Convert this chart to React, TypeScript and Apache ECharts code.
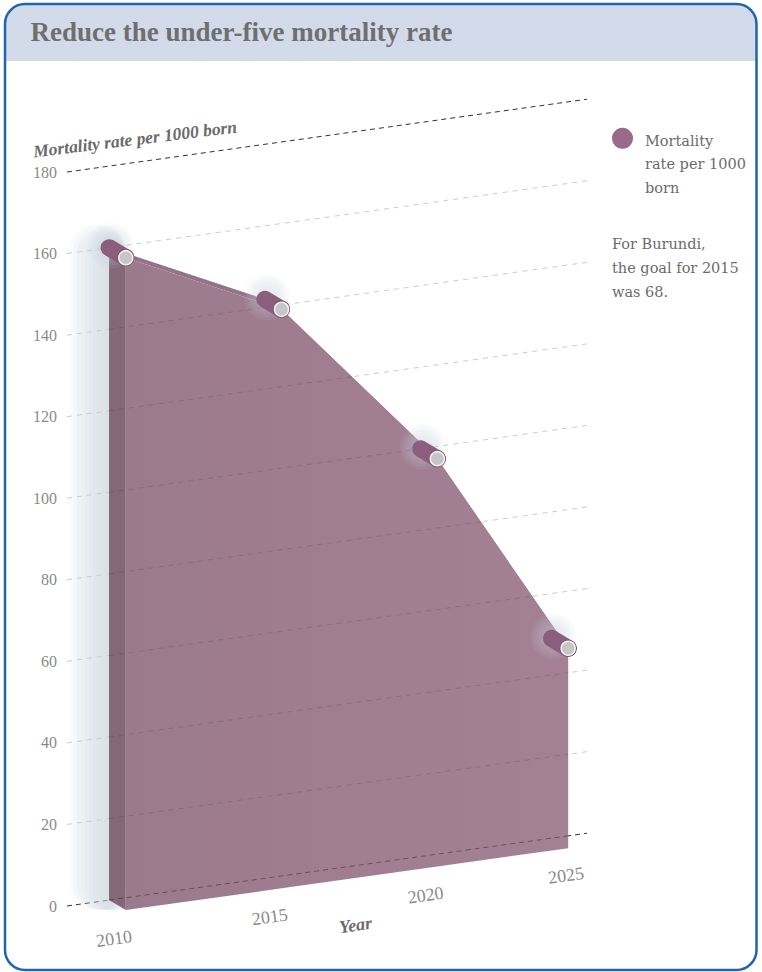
import React, { useEffect, useRef } from "react";
import * as echarts from "echarts";

// ---- data ----
const years = [2010, 2015, 2020, 2024.2];
const mortality = [160, 142, 100, 49];
const yTicks = [0, 20, 40, 60, 80, 100, 120, 140, 160, 180];
const xTicks = [2010, 2015, 2020, 2025];

const titleText = "Reduce the under-five mortality rate";
const yTitleText = "Mortality rate per 1000 born";
const xTitleText = "Year";
const seriesName = "Mortality rate per 1000 born";
const legendLines = ["Mortality", "rate per 1000", "born"];
const noteLines = ["For Burundi,", "the goal for 2015", "was 68."];

// ---- layout / style ----
const X_MIN = 2008.65;
const X_MAX = 2025.34;
const SLOPE = 0.14;
const DX = 16.7;
const DY = 10;
const SERIF = "'Liberation Serif', serif";
const BODY = "'DejaVu Serif', serif";
const FRONT_A = "#9c7a8e";
const FRONT_B = "#a48094";
const SIDE = "#85677a";
const TOP = "#93728a";
const PIPE = "#8b5e7d";

export default function App() {
  const ref = useRef<HTMLDivElement>(null);

  useEffect(() => {
    const chart = echarts.init(ref.current as HTMLDivElement, null, { renderer: "svg" });

    const skewer = (api: any) => {
      const left = api.coord([X_MIN, 0])[0];
      return (p: number[]) => [p[0], p[1] - (p[0] - left) * SLOPE];
    };
    const geometry = (api: any) => {
      const sk = skewer(api);
      const back = years.map((t, i) => sk(api.coord([t, mortality[i]])));
      const backBase = years.map((t) => sk(api.coord([t, 0])));
      const fr = (p: number[]) => [p[0] + DX, p[1] + DY];
      return { back, backBase, front: back.map(fr), frontBase: backBase.map(fr), sk };
    };
    const interp = (pts: number[][], x: number) => {
      for (let i = 0; i < pts.length - 1; i++) {
        const a = pts[i], b = pts[i + 1];
        if (x >= a[0] && x <= b[0]) {
          return a[1] + ((x - a[0]) * (b[1] - a[1])) / (b[0] - a[0] || 1);
        }
      }
      return Infinity;
    };
    const isEdge = (v: number) => v === yTicks[0] || v === yTicks[yTicks.length - 1];

    const gridBase = (params: any, api: any) => {
      const v = yTicks[params.dataIndex];
      const sk = skewer(api);
      const a = sk(api.coord([X_MIN, v]));
      const b = sk(api.coord([X_MAX, v]));
      const edge = isEdge(v);
      return {
        type: "line",
        shape: { x1: a[0], y1: a[1], x2: b[0], y2: b[1] },
        style: { stroke: edge ? "#333333" : "#cccccc", lineWidth: 1, lineDash: edge ? [5, 4] : [5, 5] },
        silent: true,
      };
    };

    const gridOverlay = (params: any, api: any) => {
      const v = yTicks[params.dataIndex];
      const g = geometry(api);
      const a = g.sk(api.coord([X_MIN, v]));
      const b = g.sk(api.coord([X_MAX, v]));
      const gy = (x: number) => a[1] + ((x - a[0]) * (b[1] - a[1])) / (b[0] - a[0]);
      const n = years.length;
      const x0 = g.back[0][0];
      const x1 = g.front[n - 1][0];
      const runs: number[][] = [];
      let start: number | null = null;
      let last = x0;
      for (let x = x0; x <= x1; x += 0.5) {
        const top = Math.min(interp(g.back, x), interp(g.front, x), interp([g.back[0], g.front[0]], x));
        const inside = gy(x) >= top - 0.5;
        if (inside && start === null) start = x;
        if (!inside && start !== null) {
          runs.push([start, last]);
          start = null;
        }
        last = x;
      }
      if (start !== null) runs.push([start, last]);
      const edge = isEdge(v);
      return {
        type: "group",
        children: runs
          .filter((r) => r[1] - r[0] > 1)
          .map((r) => ({
            type: "line",
            shape: { x1: r[0], y1: gy(r[0]), x2: r[1], y2: gy(r[1]) },
            style: {
              stroke: edge ? "rgba(40,20,35,0.45)" : "rgba(60,40,55,0.2)",
              lineWidth: 1,
              lineDash: edge ? [5, 4] : [5, 5],
            },
            silent: true,
          })),
      };
    };

    const areaRender = (params: any, api: any) => {
      if (params.dataIndex !== 0) return { type: "group", children: [] };
      const g = geometry(api);
      const n = years.length;
      const children: any[] = [];
      // soft glow to the left of the solid
      const gx = g.back[0][0];
      const gTop = g.back[0][1];
      const gBot = g.frontBase[0][1];
      for (let k = 1; k <= 10; k++) {
        const s = 4 * k;
        children.push({
          type: "rect",
          shape: { x: gx - s, y: gTop - s * 0.6, width: s + DX, height: gBot - gTop + s * 0.6, r: s },
          style: { fill: "rgba(196,205,216,0.085)" },
          silent: true,
        });
      }
      children.push({
        type: "polygon",
        shape: { points: [g.back[0], g.front[0], g.frontBase[0], g.backBase[0]] },
        style: { fill: SIDE },
      });
      for (let i = 0; i < n - 1; i++) {
        children.push({
          type: "polygon",
          shape: { points: [g.back[i], g.back[i + 1], g.front[i + 1], g.front[i]] },
          style: { fill: TOP },
        });
      }
      children.push({
        type: "polygon",
        shape: { points: [...g.front, ...g.frontBase.slice().reverse()] },
        style: {
          fill: new echarts.graphic.LinearGradient(0, 0, 1, 0, [
            { offset: 0, color: FRONT_A },
            { offset: 1, color: FRONT_B },
          ]),
        },
      });
      return { type: "group", children };
    };

    const pipeRender = (params: any, api: any) => {
      const sk = skewer(api);
      const b = sk(api.coord([api.value(0), api.value(1)]));
      const f = [b[0] + DX, b[1] + DY];
      const glow: any[] = [];
      for (let k = 1; k <= 5; k++) {
        glow.push({
          type: "circle",
          shape: { cx: b[0] + 2, cy: b[1] - 2, r: 8 + 3 * k },
          style: { fill: "rgba(200,208,218,0.09)" },
          silent: true,
        });
      }
      return {
        type: "group",
        children: [
          ...glow,
          {
            type: "line",
            shape: { x1: b[0], y1: b[1], x2: f[0], y2: f[1] },
            style: { stroke: PIPE, lineWidth: 17, lineCap: "round" },
          },
          { type: "circle", shape: { cx: f[0], cy: f[1], r: 8.6 }, style: { fill: "#7a4f6c" } },
          {
            type: "circle",
            shape: { cx: f[0], cy: f[1], r: 7 },
            style: { fill: "#c6c6c8", stroke: "#f2f2f2", lineWidth: 1.6 },
          },
        ],
      };
    };

    const labelRender = (params: any, api: any) => {
      const t = xTicks[params.dataIndex];
      const sk = skewer(api);
      const p = sk(api.coord([t, 0]));
      const rightLimit = api.coord([X_MAX, 0])[0] - 21;
      let x = p[0] + 5;
      let y = p[1] + 38.5;
      if (x > rightLimit) {
        y += (x - rightLimit) * SLOPE;
        x = rightLimit;
      }
      return {
        type: "text",
        x,
        y,
        rotation: Math.atan(SLOPE),
        style: {
          text: String(t),
          fill: "#8a8a8a",
          fontSize: 18,
          fontFamily: SERIF,
          align: "center",
          verticalAlign: "middle",
        },
        silent: true,
      };
    };

    const textStyle = (text: string, size: number, family: string, fill: string, extra: any = {}) => ({
      text,
      fontSize: size,
      fontFamily: family,
      fill,
      ...extra,
    });

    const graphics: any[] = [
      {
        type: "rect",
        z: 0,
        shape: { x: 5, y: 4, width: 751.5, height: 57, r: [20, 20, 0, 0] },
        style: { fill: "#d3dbea" },
        silent: true,
      },
      {
        type: "rect",
        z: 100,
        shape: { x: 5, y: 4, width: 751.5, height: 966, r: 20 },
        style: { fill: "none", stroke: "#1f64ae", lineWidth: 2.5 },
        silent: true,
      },
      {
        type: "text",
        x: 30.5,
        y: 32,
        style: textStyle(titleText, 27, SERIF, "#6f6f6f", { fontWeight: "bold", verticalAlign: "middle" }),
      },
      {
        type: "text",
        x: 135,
        y: 139,
        rotation: 0.122,
        style: textStyle(yTitleText, 17.5, SERIF, "#6a6a6a", {
          fontWeight: "bold",
          fontStyle: "italic",
          align: "center",
          verticalAlign: "middle",
        }),
      },
      {
        type: "text",
        x: 355.5,
        y: 925,
        rotation: 0.14,
        style: textStyle(xTitleText, 18, SERIF, "#6a6a6a", {
          fontWeight: "bold",
          fontStyle: "italic",
          align: "center",
          verticalAlign: "middle",
        }),
      },
      {
        type: "circle",
        shape: { cx: 622.5, cy: 138.3, r: 10.5 },
        style: { fill: "#9a6b88" },
      },
      ...legendLines.map((line, i) => ({
        type: "text",
        x: 645,
        y: 140.5 + i * 23.5,
        style: textStyle(line, 14.5, BODY, "#6b6b6b", { verticalAlign: "middle" }),
      })),
      ...noteLines.map((line, i) => ({
        type: "text",
        x: 612,
        y: 244 + i * 23.8,
        style: textStyle(line, 14.5, BODY, "#6b6b6b", { verticalAlign: "middle" }),
      })),
    ];

    chart.setOption({
      animation: false,
      grid: { left: 67, top: 172, width: 520, height: 734, containLabel: false },
      xAxis: { type: "value", min: X_MIN, max: X_MAX, show: false },
      yAxis: {
        type: "value",
        min: yTicks[0],
        max: yTicks[yTicks.length - 1],
        interval: 20,
        axisLine: { show: false },
        axisTick: { show: false },
        splitLine: { show: false },
        axisLabel: { color: "#8a8a8a", fontSize: 16, fontFamily: SERIF, margin: 10 },
      },
      graphic: graphics,
      series: [
        {
          type: "custom",
          name: "gridlines",
          data: yTicks.map((v) => [X_MIN, v]),
          encode: { x: 0, y: 1 },
          renderItem: gridBase,
          clip: false,
          silent: true,
          z: 1,
        },
        {
          type: "custom",
          name: seriesName,
          data: years.map((t, i) => [t, mortality[i]]),
          encode: { x: 0, y: 1 },
          renderItem: areaRender,
          clip: false,
          z: 2,
        },
        {
          type: "custom",
          name: "gridOverlay",
          data: yTicks.map((v) => [X_MIN, v]),
          encode: { x: 0, y: 1 },
          renderItem: gridOverlay,
          clip: false,
          silent: true,
          z: 3,
        },
        {
          type: "custom",
          name: "points",
          data: years.map((t, i) => [t, mortality[i]]),
          encode: { x: 0, y: 1 },
          renderItem: pipeRender,
          clip: false,
          z: 4,
        },
        {
          type: "custom",
          name: "xLabels",
          data: xTicks.map((t) => [t, 0]),
          encode: { x: 0, y: 1 },
          renderItem: labelRender,
          clip: false,
          silent: true,
          z: 5,
        },
      ],
    });

    return () => chart.dispose();
  }, []);

  return (
    <div
      ref={ref}
      style={{ position: "fixed", left: 0, top: 0, width: 762, height: 972, background: "#ffffff" }}
    />
  );
}
